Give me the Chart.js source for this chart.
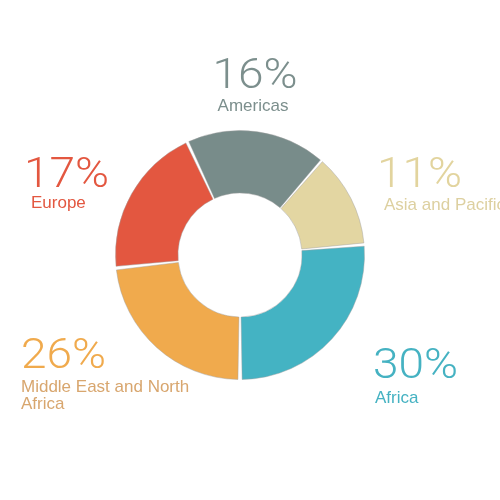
<!DOCTYPE html>
<html>
<head>
<meta charset="utf-8">
<script src="https://cdn.jsdelivr.net/npm/chart.js@4"></script>
<style>
html,body{margin:0;padding:0;background:#fff;}
#wrap{width:500px;height:500px;}
</style>
</head>
<body>
<div id="wrap"><canvas id="c" width="500" height="500"></canvas></div>
<script>
const categories = ['Americas', 'Asia and Pacific', 'Africa', 'Middle East and North Africa', 'Europe'];
const sliceValues = [18.3, 12.2, 26.4, 23.3, 19.7];
const percentLabels = ['16%', '11%', '30%', '26%', '17%'];
const sliceColors = ['#788c8a', '#e3d6a2', '#44b3c3', '#f0aa4d', '#e35740'];
const textColors = ['#7c8f8d', '#e2d49e', '#45b2c2', '#f0aa4d', '#e35740'];
const nameColors = ['#7c8f8d', '#ddd0a0', '#45b2c2', '#d8a66e', '#e35740'];

// label layout (canvas px): pct x, pct baseline, name x, name baseline(s), align
const labelLayout = [
  {px:255, py:88, nx:253, ny:[111], align:'center', lines:['Americas']},
  {px:377, py:187, nx:384, ny:[210], align:'left', lines:['Asia and Pacific']},
  {px:373, py:378, nx:375, ny:[403], align:'left', lines:['Africa']},
  {px:21, py:368, nx:21, ny:[392, 409], align:'left', lines:['Middle East and North','Africa']},
  {px:24, py:187, nx:31, ny:[208], align:'left', lines:['Europe']}
];

const labelPlugin = {
  id: 'outerLabels',
  afterDraw(chart) {
    const ctx = chart.ctx;
    const sx = 1.07;
    ctx.save();
    ctx.textBaseline = 'alphabetic';
    labelLayout.forEach((l, i) => {
      ctx.textAlign = l.align;
      ctx.save();
      ctx.translate(l.px, l.py);
      ctx.scale(sx, 1);
      ctx.fillStyle = textColors[i];
      ctx.font = '300 43px Roboto, "Liberation Sans", sans-serif';
      ctx.fillText(percentLabels[i], 0, 0);
      ctx.restore();
      ctx.fillStyle = nameColors[i];
      ctx.font = '400 17px "Liberation Sans", Arial, sans-serif';
      l.lines.forEach((t, j) => ctx.fillText(t, l.nx, l.ny[j]));
    });
    ctx.restore();
  }
};

new Chart(document.getElementById('c'), {
  type: 'doughnut',
  data: {
    labels: categories,
    datasets: [{
      data: sliceValues,
      backgroundColor: sliceColors,
      borderColor: 'rgba(160,160,160,0.45)',
      borderWidth: 1,
      spacing: 4
    }]
  },
  options: {
    responsive: false,
    animation: false,
    cutout: '49%',
    rotation: -25,
    layout: { padding: { left: 115, right: 135, top: 130, bottom: 120 } },
    plugins: { legend: { display: false }, tooltip: { enabled: false } }
  },
  plugins: [labelPlugin]
});
</script>
</body>
</html>
